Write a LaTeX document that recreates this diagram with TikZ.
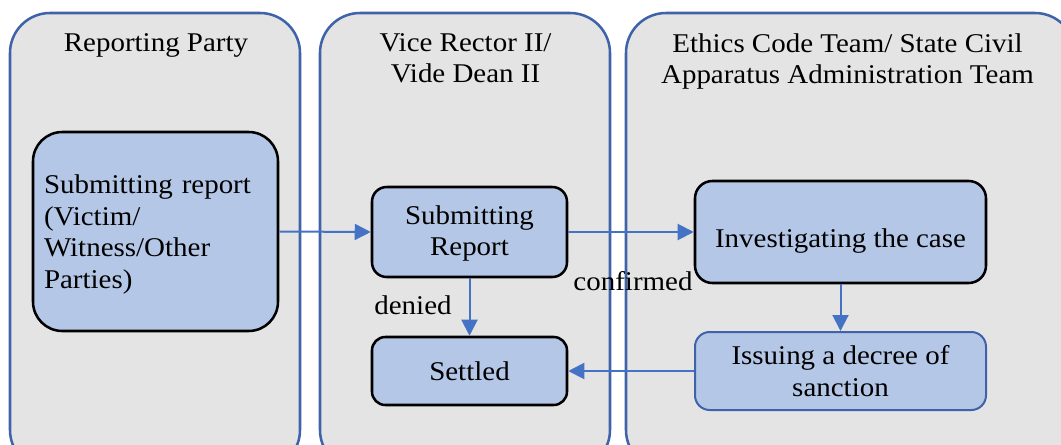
\documentclass[tikz,border=0pt]{standalone}
\usepackage{fontspec}
\setmainfont{Liberation Serif}[FakeStretch=1.07]
\usetikzlibrary{arrows.meta}
\definecolor{laneblue}{HTML}{3F63A8}
\definecolor{lanefill}{HTML}{E4E4E4}
\definecolor{boxfill}{HTML}{B4C7E7}
\definecolor{flowblue}{HTML}{4472C4}
% lower a text by #1 while keeping its box where it was
\newcommand{\lowertext}[2]{\raisebox{-#1}[\height][\depth]{#2}}
\tikzset{
  lane/.style={draw=laneblue, line width=1.9pt, fill=lanefill, rounded corners=30pt,
    inner sep=0pt},
  lanetitle/.style={anchor=north, align=center, inner sep=0pt,
    font=\fontsize{20.3}{23.4}\selectfont},
  stepbox/.style={draw=black, line width=1.9pt, fill=boxfill, inner sep=0pt,
    align=center, font=\fontsize{20.3}{23.6}\selectfont},
  flow/.style={draw=flowblue, line width=1.5pt,
    -{Triangle[length=12pt,width=12pt]}},
  lbl/.style={inner sep=0pt, font=\fontsize{20.3}{24}\selectfont}
}
\begin{document}
\begin{tikzpicture}[x=0.75pt,y=-0.75pt]
  \useasboundingbox (0,0) rectangle (1061,444);
  \clip (0,0) rectangle (1061,444);
  % swimlanes
  \node[lane, minimum width=290*0.75pt, minimum height=457*0.75pt] (lane1) at (155,241.5) {};
  \node[lane, minimum width=290*0.75pt, minimum height=457*0.75pt] (lane2) at (465,241.5) {};
  \node[lane, minimum width=449*0.75pt, minimum height=457*0.75pt] (lane3) at (850.5,241.5) {};
  \node[lanetitle] (t1) at (156,33) {Reporting Party};
  \node[lanetitle] (t2) at (465.5,33) {Vice Rector II/\\Vide Dean II};
  \node[lanetitle] (t3) at (847.5,33) {Ethics Code Team/ State Civil\\Apparatus Administration Team};
  % process steps
  \node[stepbox, rounded corners=22pt, minimum width=245*0.75pt, minimum height=199*0.75pt,
        text width=223*0.75pt, align=left] (report) at (155.5,231.5)
        {\lowertext{2.4pt}{\begin{tabular}{@{}l@{}}Submitting report\\(Victim/\\Witness/Other\\Parties)\end{tabular}}};
  \node[stepbox, rounded corners=11pt, minimum width=195*0.75pt, minimum height=90*0.75pt]
        (submit) at (469.5,232)
        {\lowertext{1.3pt}{\begin{tabular}{@{}c@{}}Submitting\\Report\end{tabular}}};
  \node[stepbox, rounded corners=10pt, minimum width=195*0.75pt, minimum height=68*0.75pt]
        (settled) at (469.5,371) {Settled};
  \node[stepbox, rounded corners=13pt, minimum width=291*0.75pt, minimum height=102*0.75pt]
        (investigate) at (840.5,232) {\lowertext{6.75pt}{Investigating the case}};
  \node[stepbox, draw=laneblue, line width=1.5pt, rounded corners=11pt,
        minimum width=291*0.75pt, minimum height=78*0.75pt]
        (decree) at (840.5,371) {Issuing a decree of\\sanction};
  % connectors
  \draw[flow] (report.east) -- (submit.west);
  \draw[flow] (submit.east) -- (investigate.west);
  \draw[flow] (submit.south) -- (settled.north);
  \draw[flow] (investigate.south) -- (decree.north);
  \draw[flow] (decree.west) -- (settled.east);
  % branch labels
  \node[lbl] (denied) at (413,305) {denied};
  \node[lbl] (confirmed) at (633,281) {confirmed};
\end{tikzpicture}
\end{document}
